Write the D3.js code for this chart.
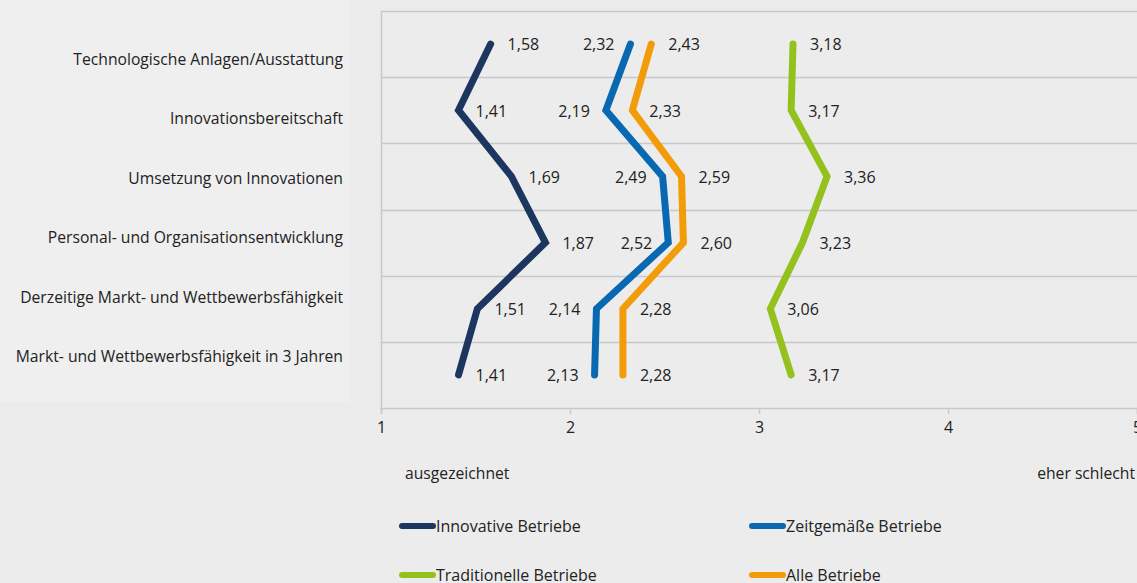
<!DOCTYPE html>
<html>
<head>
<meta charset="utf-8">
<script src="https://cdn.jsdelivr.net/npm/d3@7"></script>
<style>
  html, body { margin: 0; padding: 0; background: #ececec; }
  svg { display: block; }
  text { font-family: "Open Sans", sans-serif; fill: #222; }
</style>
</head>
<body>
<svg id="chart" width="1137" height="583"></svg>
<script>
const categories = [
  "Technologische Anlagen/Ausstattung",
  "Innovationsbereitschaft",
  "Umsetzung von Innovationen",
  "Personal- und Organisationsentwicklung",
  "Derzeitige Markt- und Wettbewerbsfähigkeit",
  "Markt- und Wettbewerbsfähigkeit in 3 Jahren"
];
const innovative = [1.58, 1.41, 1.69, 1.87, 1.51, 1.41];
const zeitgemaesse = [2.32, 2.19, 2.49, 2.52, 2.14, 2.13];
const alle = [2.43, 2.33, 2.59, 2.60, 2.28, 2.28];
const traditionelle = [3.18, 3.17, 3.36, 3.23, 3.06, 3.17];
const xTicks = [1, 2, 3, 4, 5];
const seriesNames = ["Innovative Betriebe", "Zeitgemäße Betriebe", "Traditionelle Betriebe", "Alle Betriebe"];

const series = [
  { name: seriesNames[0], values: innovative, color: "#1c365f", side: "right" },
  { name: seriesNames[1], values: zeitgemaesse, color: "#0868b2", side: "left" },
  { name: seriesNames[2], values: traditionelle, color: "#95c11f", side: "right" },
  { name: seriesNames[3], values: alle, color: "#f39c0a", side: "right" }
];
const drawOrder = [series[2], series[3], series[1], series[0]];

const svg = d3.select("#chart");
const plot = { left: 381, right: 1137, top: 11, bottom: 408 };
const dy = 2;

// lighter label panel
svg.append("rect").attr("x", 0).attr("y", 0).attr("width", 350).attr("height", 402).attr("fill", "#efefef");

const x = d3.scaleLinear().domain([1, 5]).range([plot.left, plot.right]);
const y = d3.scaleBand().domain(categories).range([plot.top, plot.bottom]);
const yLabel = d3.scaleBand().domain(categories).range([31, 388]);

// gridlines (band boundaries)
const bounds = categories.map(c => y(c));
svg.append("g").selectAll("line").data(bounds).join("line")
  .attr("x1", plot.left).attr("x2", plot.right)
  .attr("y1", d => Math.round(d) + 0.5).attr("y2", d => Math.round(d) + 0.5)
  .attr("stroke", "#c8c8c8").attr("stroke-width", 1.5);

// left axis line
svg.append("line").attr("x1", plot.left + 0.5).attr("x2", plot.left + 0.5)
  .attr("y1", plot.top).attr("y2", plot.bottom)
  .attr("stroke", "#c8c8c8").attr("stroke-width", 1.5);

// bottom axis
const xAxis = d3.axisBottom(x).tickValues(xTicks).tickSize(6).tickPadding(8).tickFormat(d3.format("d"));
const gx = svg.append("g").attr("transform", `translate(0,${plot.bottom})`).call(xAxis);
gx.select(".domain").attr("stroke", "#c8c8c8").attr("stroke-width", 1.5);
gx.selectAll(".tick line").attr("stroke", "#c8c8c8").attr("stroke-width", 1.5);
gx.selectAll(".tick text").attr("font-size", 16).attr("font-family", "Open Sans, sans-serif").attr("fill", "#222");

// category labels
svg.append("g").selectAll("text").data(categories).join("text")
  .attr("x", 343).attr("y", d => yLabel(d) + yLabel.bandwidth() / 2)
  .attr("text-anchor", "end").attr("dominant-baseline", "middle")
  .attr("font-size", 15.7).text(d => d);

const cy = i => y(categories[i]) + y.bandwidth() / 2;
const line = d3.line().x(d => x(d)).y((d, i) => cy(i));

drawOrder.forEach(s => {
  svg.append("path").datum(s.values)
    .attr("d", line).attr("fill", "none")
    .attr("stroke", s.color).attr("stroke-width", 7)
    .attr("stroke-linecap", "round").attr("stroke-linejoin", "miter");
});

const fmt = v => d3.format(".2f")(v).replace(".", ",");
series.forEach(s => {
  svg.append("g").selectAll("text").data(s.values).join("text")
    .attr("x", d => s.side === "right" ? x(d) + 17 : x(d) - 16)
    .attr("y", (d, i) => cy(i) + dy)
    .attr("text-anchor", s.side === "right" ? "start" : "end")
    .attr("dominant-baseline", "middle")
    .attr("font-size", 16).text(d => fmt(d));
});

// axis descriptions
svg.append("text").attr("x", 405).attr("y", 473 + dy).attr("dominant-baseline", "middle")
  .attr("font-size", 15.7).text("ausgezeichnet");
svg.append("text").attr("x", 1135).attr("y", 473 + dy).attr("dominant-baseline", "middle")
  .attr("text-anchor", "end").attr("font-size", 15.7).text("eher schlecht");

// legend
const legendPos = [
  { x: 402, y: 526 }, { x: 752, y: 526 },
  { x: 402, y: 575 }, { x: 752, y: 575 }
];
series.forEach((s, i) => {
  const p = legendPos[i];
  const g = svg.append("g");
  g.append("line").attr("x1", p.x).attr("x2", p.x + 31).attr("y1", p.y).attr("y2", p.y)
    .attr("stroke", s.color).attr("stroke-width", 6).attr("stroke-linecap", "round");
  g.append("text").attr("x", p.x + 34).attr("y", p.y + dy).attr("dominant-baseline", "middle")
    .attr("font-size", 16).text(s.name);
});
</script>
</body>
</html>
